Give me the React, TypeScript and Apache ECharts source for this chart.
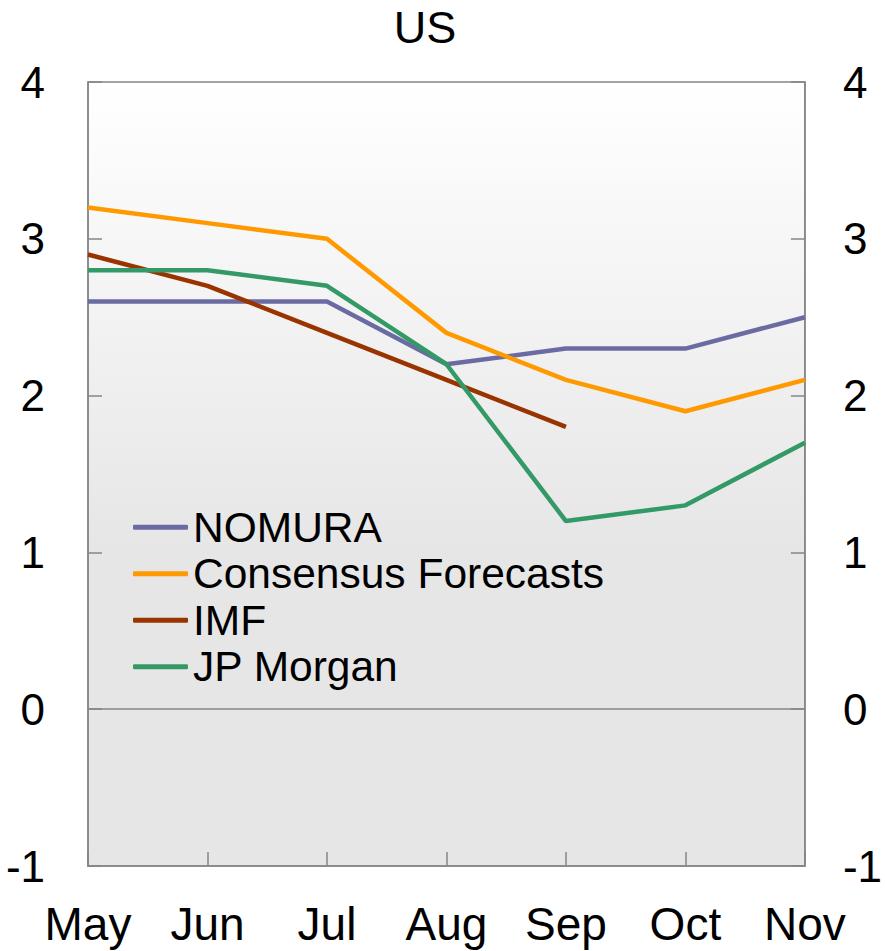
import React, { useEffect, useRef } from "react";
import * as echarts from "echarts";

const categories = ["May", "Jun", "Jul", "Aug", "Sep", "Oct", "Nov"];
const nomura = [2.6, 2.6, 2.6, 2.2, 2.3, 2.3, 2.5];
const consensus = [3.2, 3.1, 3.0, 2.4, 2.1, 1.9, 2.1];
const imf = [2.9, 2.7, 2.4, 2.1, 1.8, null, null];
const jpMorgan = [2.8, 2.8, 2.7, 2.2, 1.2, 1.3, 1.7];
const yTicks = { min: -1, max: 4, interval: 1 };

const FONT = "'Liberation Sans', Arial, sans-serif";
const AXIS_GREY = "#868686";

export default function App() {
  const ref = useRef<HTMLDivElement>(null);
  useEffect(() => {
    document.body.style.margin = "0";
    const chart = echarts.init(ref.current!, null, { renderer: "svg" });
    const mkSeries = (name: string, data: (number | null)[], color: string, extra: any = {}) => ({
      name,
      type: "line",
      data,
      symbol: "none",
      connectNulls: false,
      lineStyle: { color, width: 4.5 },
      itemStyle: { color },
      z: 3,
      ...extra,
    });
    const yAxisBase = {
      type: "value",
      min: yTicks.min,
      max: yTicks.max,
      interval: yTicks.interval,
      axisLine: { show: true, lineStyle: { color: AXIS_GREY, width: 1.5 } },
      axisTick: { show: true, inside: true, length: 14, lineStyle: { color: AXIS_GREY, width: 1.5 } },
      splitLine: { show: false },
      axisLabel: { color: "#000", fontSize: 44, fontFamily: FONT },
    };
    chart.setOption({
      animation: false,
      title: {
        text: "US",
        left: 425,
        top: 5,
        padding: 0,
        textAlign: "center",
        textStyle: { color: "#000", fontSize: 45, fontWeight: "normal", fontFamily: FONT },
      },
      grid: {
        left: 88,
        right: 79,
        top: 82,
        bottom: 85,
        show: true,
        borderColor: AXIS_GREY,
        borderWidth: 1.5,
        backgroundColor: new echarts.graphic.LinearGradient(0, 0, 0, 1, [
          { offset: 0, color: "#ffffff" },
          { offset: 0.6, color: "#e6e6e6" },
          { offset: 1, color: "#e6e6e6" },
        ]),
      },
      legend: {
        orient: "vertical",
        left: 133,
        top: 504,
        padding: 0,
        icon: "roundRect",
        itemWidth: 55,
        itemHeight: 5,
        itemGap: 0,
        textStyle: { color: "#000", fontSize: 42.5, fontFamily: FONT, lineHeight: 46.5 },
        data: ["NOMURA", "Consensus Forecasts", "IMF", "JP Morgan"],
      },
      xAxis: {
        type: "category",
        data: categories,
        boundaryGap: false,
        axisLine: { show: true, onZero: false, lineStyle: { color: AXIS_GREY, width: 1.5 } },
        axisTick: { show: true, inside: true, length: 14, lineStyle: { color: AXIS_GREY, width: 1.5 } },
        axisLabel: { color: "#000", fontSize: 46, fontFamily: FONT, margin: 35, interval: 0 },
      },
      yAxis: [
        { ...yAxisBase, position: "left", axisLabel: { ...yAxisBase.axisLabel, margin: 43 } },
        { ...yAxisBase, position: "right", axisLabel: { ...yAxisBase.axisLabel, margin: 38 } },
      ],
      series: [
        mkSeries("NOMURA", nomura, "#6b6ba3", {
          markLine: {
            silent: true,
            symbol: "none",
            label: { show: false },
            lineStyle: { color: AXIS_GREY, width: 1.5, type: "solid" },
            data: [{ yAxis: 0 }],
          },
        }),
        mkSeries("Consensus Forecasts", consensus, "#ff9900"),
        mkSeries("IMF", imf, "#993300"),
        mkSeries("JP Morgan", jpMorgan, "#339966"),
      ],
    });
    return () => chart.dispose();
  }, []);
  return <div ref={ref} style={{ position: "absolute", left: 0, top: 0, width: 885, height: 951 }} />;
}
